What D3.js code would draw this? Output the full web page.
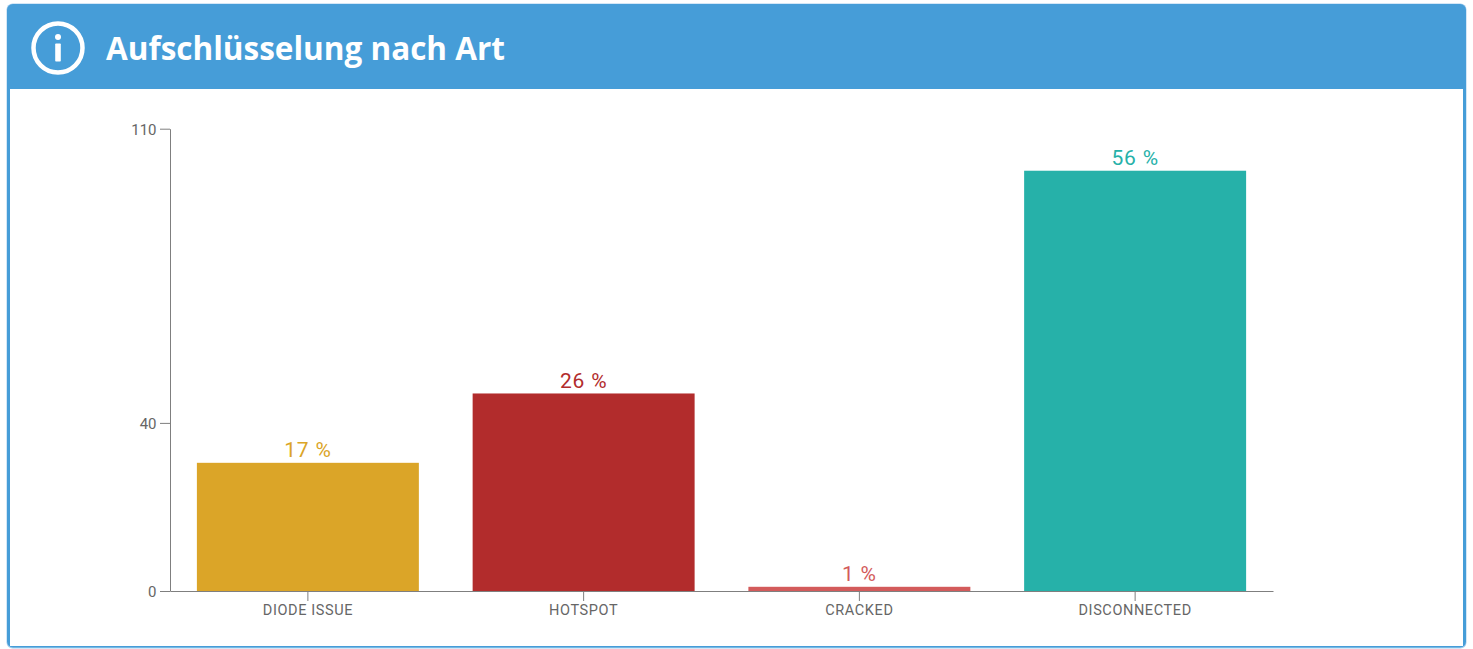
<!DOCTYPE html>
<html>
<head>
<meta charset="utf-8">
<script src="https://cdn.jsdelivr.net/npm/d3@7/dist/d3.min.js"></script>
<style>
  html, body { margin: 0; padding: 0; background: #fff; overflow: hidden; }
  svg { display: block; }
  text { font-family: Roboto, sans-serif; }
</style>
</head>
<body>
<svg id="chart" width="1473" height="649"></svg>
<script>
const title = "Aufschlüsselung nach Art";
const categories = ["DIODE ISSUE", "HOTSPOT", "CRACKED", "DISCONNECTED"];
const counts = [30.5, 47, 1, 100];
const percentLabels = ["17 %", "26 %", "1 %", "56 %"];
const barColors = ["#dba528", "#b22c2c", "#d35b5b", "#26b1a9"];
const yTicks = [0, 40, 110];

const panelBlue = "#469dd8";
const axisGrey = "#7f7f7f";
const svg = d3.select("#chart");

// Card: rounded blue shape with a white body inset by the side borders
svg.append("rect").attr("x", 6.5).attr("y", 3.5).attr("width", 1460).attr("height", 645)
  .attr("rx", 6).attr("fill", "#a9d0ef");
svg.append("rect").attr("x", 7).attr("y", 4).attr("width", 1459).attr("height", 643.5)
  .attr("rx", 6).attr("fill", panelBlue);
svg.append("rect").attr("x", 10).attr("y", 89).attr("width", 1453).attr("height", 557)
  .attr("fill", "#fff");

// Header icon
const icon = svg.append("g").attr("transform", "translate(58,48)");
icon.append("circle").attr("r", 24.5).attr("fill", "none").attr("stroke", "#fff").attr("stroke-width", 4.5);
icon.append("circle").attr("cy", -11).attr("r", 3).attr("fill", "#fff");
icon.append("rect").attr("x", -2.8).attr("y", -4.5).attr("width", 5.6).attr("height", 18).attr("rx", 0.8).attr("fill", "#fff");

svg.append("text").attr("x", 106).attr("y", 60)
  .attr("fill", "#fff")
  .style("font-family", "'Open Sans', sans-serif")
  .style("font-weight", 700)
  .style("font-size", "31.5px")
  .text(title);

// Scales
const x = d3.scaleBand().domain(categories).range([170, 1273])
  .paddingInner(0.195).paddingOuter(0.0975);
const y = d3.scaleLinear().domain([0, 110]).range([591, 128.7]);

// Bars
svg.append("g").selectAll("rect").data(categories).join("rect")
  .attr("x", d => x(d))
  .attr("y", (d, i) => y(counts[i]))
  .attr("width", x.bandwidth())
  .attr("height", (d, i) => y(0) - y(counts[i]))
  .attr("fill", (d, i) => barColors[i]);

// Axes
const yAxis = svg.append("g").attr("transform", "translate(170,0)")
  .call(d3.axisLeft(y).tickValues(yTicks).tickFormat(d3.format("d")).tickSize(10).tickSizeOuter(0));
const xAxis = svg.append("g").attr("transform", "translate(0,591)")
  .call(d3.axisBottom(x).tickSize(10).tickSizeOuter(0));

[yAxis, xAxis].forEach(a => {
  a.selectAll("path, line").attr("stroke", axisGrey);
  a.selectAll("text").attr("fill", "#666").style("font-family", "Roboto, sans-serif");
});
yAxis.selectAll("text").style("font-size", "15px").attr("x", -13.5).attr("dy", "0.36em");
xAxis.selectAll("text").style("font-size", "14.5px").style("letter-spacing", "0.6px")
  .attr("y", 14).attr("dy", "0.71em");

// Value labels above each bar
svg.append("g").selectAll("text").data(categories).join("text")
  .attr("x", d => x(d) + x.bandwidth() / 2)
  .attr("y", (d, i) => y(counts[i]) - 5.5)
  .attr("text-anchor", "middle")
  .attr("fill", (d, i) => barColors[i])
  .style("font-size", "21px")
  .style("letter-spacing", "0.8px")
  .text((d, i) => percentLabels[i]);
</script>
</body>
</html>
